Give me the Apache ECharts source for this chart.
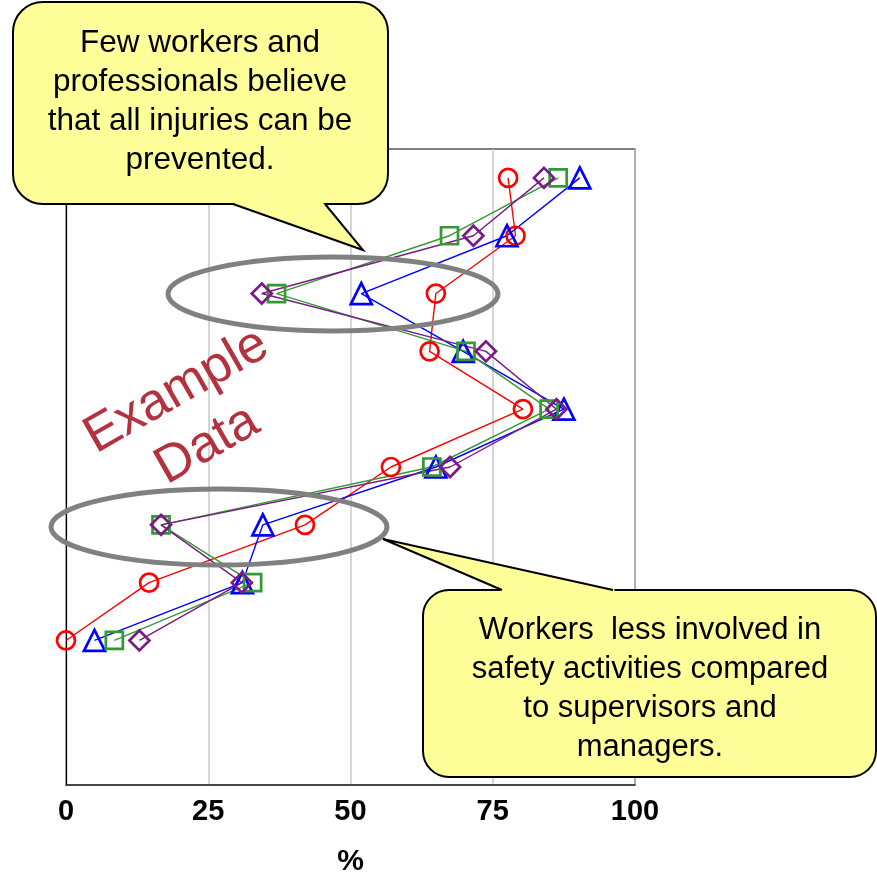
<!DOCTYPE html>
<html><head><meta charset="utf-8">
<script src="https://cdn.jsdelivr.net/npm/echarts@6/dist/echarts.min.js"></script>
<style>html,body{margin:0;padding:0;background:#fff}#c{width:877px;height:882px}</style>
</head><body><div id="c"></div>
<script>
// Categories (rows, top to bottom); last two rows are empty
const categories = ['Q1','Q2','Q3','Q4','Q5','Q6','Q7','Q8','Q9','',''];
const xTicks = [0, 25, 50, 75, 100];
const redValues    = [77.7, 79.0, 65.0, 63.9, 80.3, 57.1, 42.0, 14.6, 0.0];
const blueValues   = [90.3, 77.5, 51.9, 69.8, 87.5, 65.0, 34.6, 31.0, 5.0];
const greenValues  = [86.5, 67.4, 37.0, 70.3, 84.9, 64.3, 16.7, 32.8, 8.5];
const purpleValues = [84.0, 71.6, 34.4, 73.8, 86.2, 67.5, 16.7, 30.9, 12.9];

const FONT = '"Liberation Sans", Arial, sans-serif';
function mk(name, data, color, symbol, size) {
  return {
    name, type: 'line', data: data.map((v, i) => [v, categories[i]]),
    symbol, symbolSize: size, showAllSymbol: true,
    lineStyle: { color, width: 1.4 },
    itemStyle: { color: 'rgba(255,255,255,0)', borderColor: color, borderWidth: 2.7 },
    emphasis: { disabled: true }, animation: false
  };
}

function bubble(rect, tail, r, lines, cx, y0, lh, fs) {
  const fill = '#ffff99';
  const els = [
    { type: 'rect', shape: { x: rect[0], y: rect[1], width: rect[2], height: rect[3], r },
      style: { fill, stroke: '#000', lineWidth: 2 }, z: 100 },
    { type: 'polygon', shape: { points: tail }, style: { fill, stroke: null }, z: 101 },
    { type: 'line', shape: { x1: tail[0][0] + 1.5, y1: tail[0][1], x2: tail[2][0] - 1.5, y2: tail[2][1] },
      style: { stroke: fill, lineWidth: 4 }, z: 102 },
    { type: 'polyline', shape: { points: tail }, style: { fill: null, stroke: '#000', lineWidth: 2 }, z: 103 }
  ];
  lines.forEach((t, i) => els.push({
    type: 'text', x: cx, y: y0 + i * lh, z: 104,
    style: { text: t, fill: '#000', font: fs + 'px ' + FONT, textAlign: 'center', textVerticalAlign: 'middle' }
  }));
  return els;
}

const chart = echarts.init(document.getElementById('c'), null, { renderer: 'canvas' });
const graphics = []
  .concat(bubble([13, 2, 375, 202], [[233, 204], [363, 250], [325, 204]], 30,
    ['Few workers and', 'professionals believe', 'that all injuries can be', 'prevented.'], 200, 43, 39, 31.5))
  .concat(bubble([423, 590, 453, 187], [[613, 590], [383, 539], [502, 590]], 26,
    ['Workers  less involved in', 'safety activities compared', 'to supervisors and', 'managers.'], 650, 630, 39, 31))
  .concat([
    { type: 'ellipse', shape: { cx: 333, cy: 294, rx: 165, ry: 37 }, style: { fill: null, stroke: '#808080', lineWidth: 5 }, z: 90 },
    { type: 'ellipse', shape: { cx: 219, cy: 527, rx: 168, ry: 38 }, style: { fill: null, stroke: '#808080', lineWidth: 5 }, z: 90 },
    { type: 'text', x: 192, y: 418, rotation: 0.52, z: 95,
      style: { text: 'Example\nData', fill: '#b3323f', font: '52px ' + FONT, textAlign: 'center', textVerticalAlign: 'middle', lineHeight: 62 } }
  ]);

chart.setOption({
  animation: false,
  grid: { left: 66, right: 242, top: 149, bottom: 96, show: true, borderColor: '#000', borderWidth: 1.2 },
  xAxis: {
    type: 'value', min: xTicks[0], max: xTicks[xTicks.length - 1], interval: 25,
    name: '%', nameLocation: 'middle', nameGap: 62,
    nameTextStyle: { color: '#000', fontSize: 30, fontWeight: 'bold', fontFamily: FONT },
    axisLine: { show: true, lineStyle: { color: '#333', width: 1.5 } },
    axisTick: { show: false },
    axisLabel: { color: '#000', fontSize: 29, fontWeight: 'bold', fontFamily: FONT, margin: 12 },
    splitLine: { show: true, lineStyle: { color: '#c8c8c8', width: 1.5 } }
  },
  yAxis: {
    type: 'category', data: categories, inverse: true, boundaryGap: true,
    axisLine: { show: true, lineStyle: { color: '#000', width: 1.2 } },
    axisTick: { show: false }, axisLabel: { show: false }, splitLine: { show: false }
  },
  series: [
    mk('red', redValues, '#ff0000', 'circle', 18),
    mk('blue', blueValues, '#0000ff', 'triangle', 21),
    mk('green', greenValues, '#339933', 'rect', 17),
    mk('purple', purpleValues, '#7a1a86', 'diamond', 20)
  ],
  graphic: graphics
});
</script>
</body></html>
